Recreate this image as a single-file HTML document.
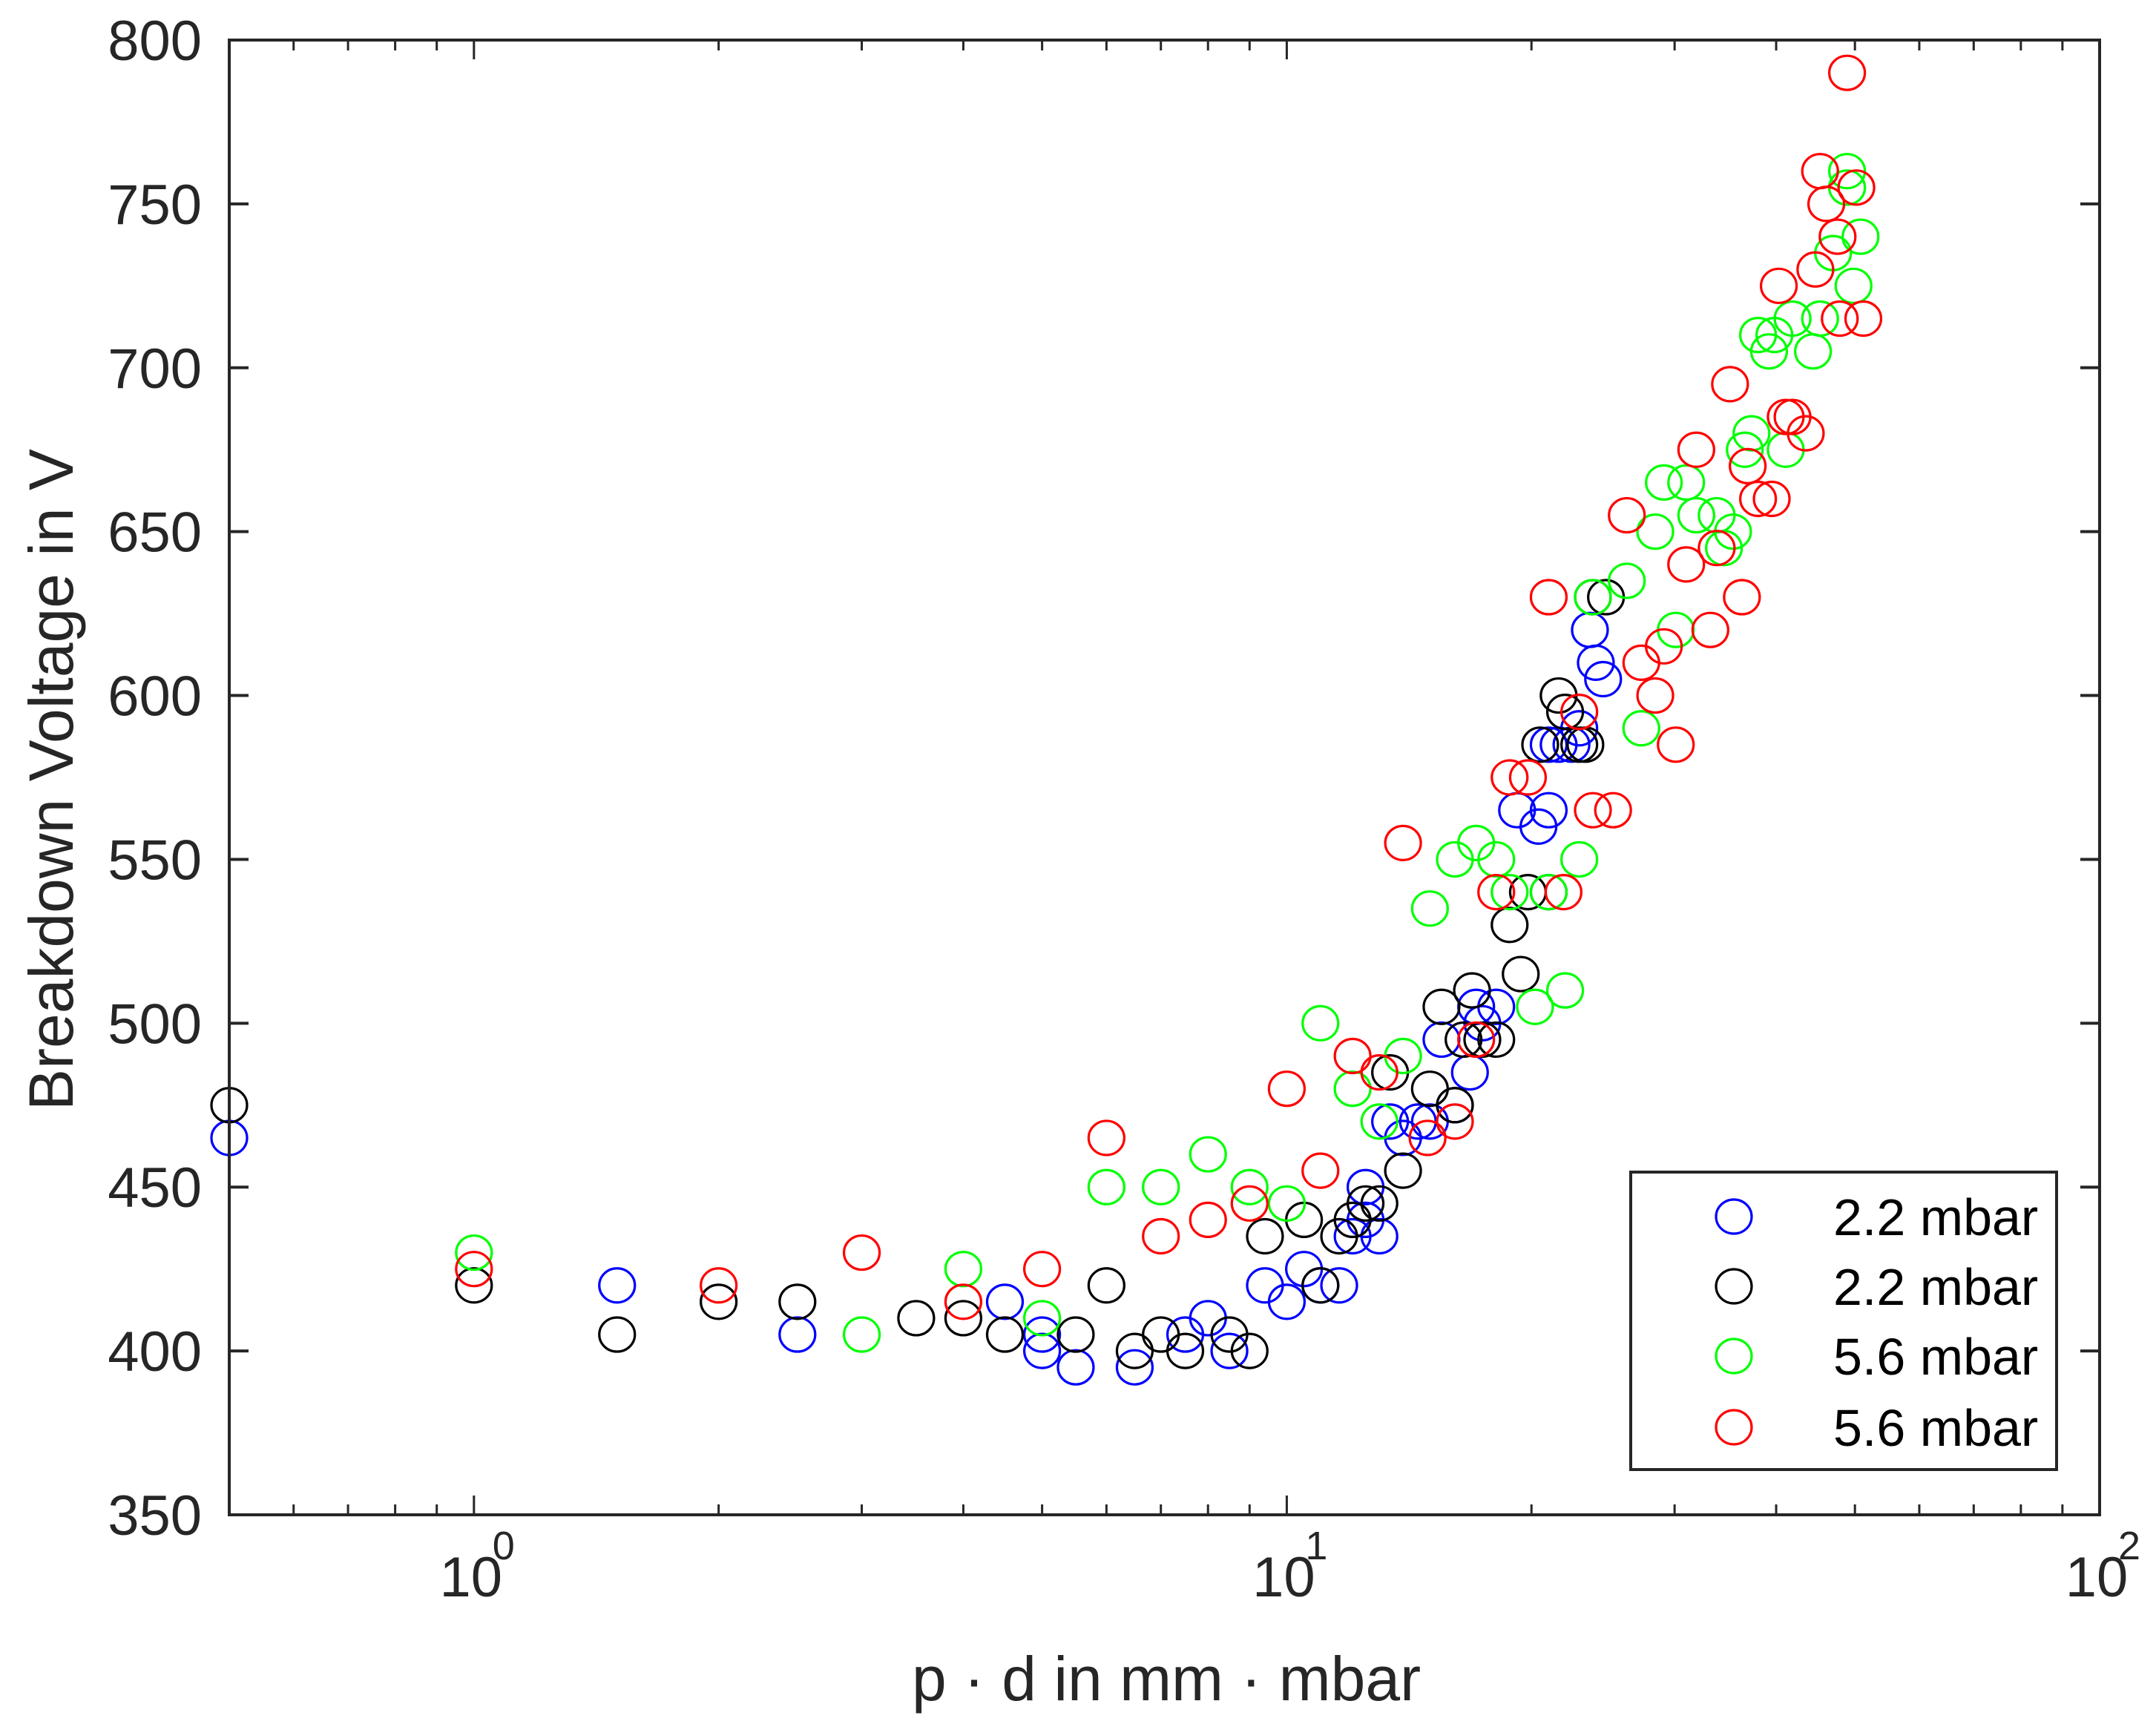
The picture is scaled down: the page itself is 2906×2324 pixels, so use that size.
<!DOCTYPE html>
<html><head><meta charset="utf-8"><style>
html,body{margin:0;padding:0;background:#fff;}
svg{display:block;font-family:"Liberation Sans",Arial,sans-serif;}
</style></head><body>
<svg id="chart" width="2906" height="2324" viewBox="0 0 2906 2324">
<rect x="0" y="0" width="2906" height="2324" fill="#fff"/>
<g id="plot"></g>
</svg>
<script>
const xTicks = [1, 10, 100];
const xTickExp = ["0", "1", "2"];
const yTicks = [350, 400, 450, 500, 550, 600, 650, 700, 750, 800];
const seriesNames = ["2.2 mbar", "2.2 mbar", "5.6 mbar", "5.6 mbar"];
const seriesColors = ["#0000ff", "#000000", "#00ff00", "#ff0000"];

const blueX = [0.5,1.5,2.5,4.5,5.0,5.0,5.5,6.5,7.5,8.0,8.5,9.4,10,10.5,11,11.6,12.05,12.5,12.5,13.0,13.4,13.9,14.5,15.0,15.5,16.1,16.8,17.1,17.4,18.1,19.2,20.4,21.0,21.0,21.6,22.4,22.9,23.6,24.0,24.5];
const blueY = [465,420,405,415,405,400,395,395,405,410,400,420,415,425,420,420,435,440,450,435,470,465,470,470,495,475,485,505,500,505,565,560,565,585,585,585,590,620,610,605];

const blackX = [0.5,1.0,1.5,2.0,2.5,3.5,4.0,4.5,5.5,6.0,6.5,7.0,7.5,8.5,9.0,9.4,10.5,11,11.6,12.05,12.5,13.0,13.4,13.9,15.0,15.5,16.1,16.5,16.9,17.4,18.1,18.8,19.4,19.8,20.5,21.0,21.6,22.0,22.9,23.3,23.8,24.7];
const blackY = [475,420,405,415,415,410,410,405,405,420,400,405,400,405,400,435,440,420,435,440,445,445,485,455,480,505,475,495,510,495,495,530,515,540,585,540,600,595,585,585,630,630];

const greenX = [1.0,3.0,4.0,5.0,6.0,7.0,8.0,9.0,10,11,12.05,13.0,13.9,15.0,16.1,17.1,18.1,18.8,20.2,21.0,22.0,22.9,23.8,26.2,27.3,28.4,29.1,31.0,31.9,30.1,33.8,34.5,35.4,36.6,37.3,38.0,39.2,39.8,41.1,41.9,44.4,45.3,47.0,48.9,49.8,50.8,48.9];
const greenY = [430,405,425,410,450,450,460,450,445,500,480,470,490,535,550,555,550,540,505,540,510,550,630,635,590,650,665,665,655,620,655,645,650,675,680,710,705,710,675,715,705,715,735,760,725,740,755];

const redX = [1.0,2.0,3.0,4.0,5.0,6.0,7.0,8.0,9.0,10,11,12.05,13.0,13.9,14.9,16.1,17.1,18.1,18.8,19.8,21.0,21.9,22.9,23.8,25.2,26.2,27.3,28.4,29.1,30.1,31.0,31.9,33.2,33.8,35.1,36.3,36.9,38.0,39.5,40.3,41.1,41.9,43.5,44.7,45.3,46.1,47.6,47.9,48.9,50.2,51.2];
const redY = [425,420,430,415,425,465,435,440,445,480,455,490,485,555,465,470,495,540,575,575,630,540,595,565,565,655,610,600,615,585,640,675,620,645,695,630,670,660,660,725,685,685,680,730,760,750,740,715,790,755,715];

const NS = "http://www.w3.org/2000/svg";
const L = 309, R = 2830, T = 54, B = 2042;
const xMin = 0.5, xMax = 100, yMin = 350, yMax = 800;
function sx(v){ return L + (Math.log10(v) - Math.log10(xMin)) / (Math.log10(xMax) - Math.log10(xMin)) * (R - L); }
function sy(v){ return B - (v - yMin) / (yMax - yMin) * (B - T); }
const g = document.getElementById('plot');
function mk(tag, attrs, parent){ const e = document.createElementNS(NS, tag); for (const k in attrs) e.setAttribute(k, attrs[k]); (parent||g).appendChild(e); return e; }

const axisCol = "#262626";
const allX = [blueX, blackX, greenX, redX];
const allY = [blueY, blackY, greenY, redY];
const seriesKeys = ["blue", "black", "green", "red"];
for (let s = 0; s < 4; s++) {
  const sg = mk('g', {});
  
  
  for (let i = 0; i < allX[s].length; i++) {
    const c = mk('ellipse', {cx: sx(allX[s][i]), cy: sy(allY[s][i]), rx: 24, ry: 23, fill: 'none', stroke: seriesColors[s], 'stroke-width': 3.2}, sg);
    
    
  }
}

const box = mk('rect', {x: L, y: T, width: R - L, height: B - T, fill: 'none', stroke: axisCol, 'stroke-width': 4});



yTicks.forEach(v => {
  const y = sy(v);
  mk('line', {x1: L, x2: L + 26, y1: y, y2: y, stroke: axisCol, 'stroke-width': 4});
  mk('line', {x1: R, x2: R - 26, y1: y, y2: y, stroke: axisCol, 'stroke-width': 4});
  const t = mk('text', {x: 272, y: y + 27, 'text-anchor': 'end', 'font-size': 76, fill: axisCol});
  t.textContent = v;
  
  
});

for (let d = -1; d < 2; d++) {
  for (let m = 1; m < 10; m++) {
    const v = m * Math.pow(10, d);
    if (v < xMin || v > xMax) continue;
    const x = sx(v);
    const len = m === 1 ? 26 : 14;
    mk('line', {x1: x, x2: x, y1: B, y2: B - len, stroke: axisCol, 'stroke-width': 3});
    mk('line', {x1: x, x2: x, y1: T, y2: T + len, stroke: axisCol, 'stroke-width': 3});
  }
}
mk('line', {x1: R, x2: R, y1: B, y2: B - 26, stroke: axisCol, 'stroke-width': 3});
xTicks.forEach((v, i) => {
  const x = sx(v);
  const t = mk('text', {x: x - 4, y: 2152, 'text-anchor': 'middle', 'font-size': 76, fill: axisCol});
  t.textContent = '10';
  
  
  const e = mk('text', {x: x + 40, y: 2102, 'text-anchor': 'middle', 'font-size': 54, fill: axisCol});
  e.textContent = xTickExp[i];
  
  
});

const xt = mk('text', {x: 1572, y: 2292, 'text-anchor': 'middle', 'font-size': 84, fill: axisCol});
xt.textContent = 'p · d in mm · mbar';


const yt = mk('text', {x: 0, y: 0, 'text-anchor': 'middle', 'font-size': 84, fill: axisCol, transform: 'translate(98,1051) rotate(-90)'});
yt.textContent = 'Breakdown Voltage in V';



const lg = mk('g', {});


mk('rect', {x: 2198, y: 1580, width: 574, height: 401, fill: '#fff', stroke: axisCol, 'stroke-width': 4}, lg);
const rowsY = [1640, 1734, 1828, 1924];
for (let s = 0; s < 4; s++) {
  const ent = mk('g', {}, lg);
  
  
  mk('ellipse', {cx: 2337, cy: rowsY[s], rx: 24, ry: 23, fill: 'none', stroke: seriesColors[s], 'stroke-width': 3.2}, ent);
  const t = mk('text', {x: 2471, y: rowsY[s] + 25, 'font-size': 70, fill: '#000'}, ent);
  t.textContent = seriesNames[s];
}
</script>
</body></html>
